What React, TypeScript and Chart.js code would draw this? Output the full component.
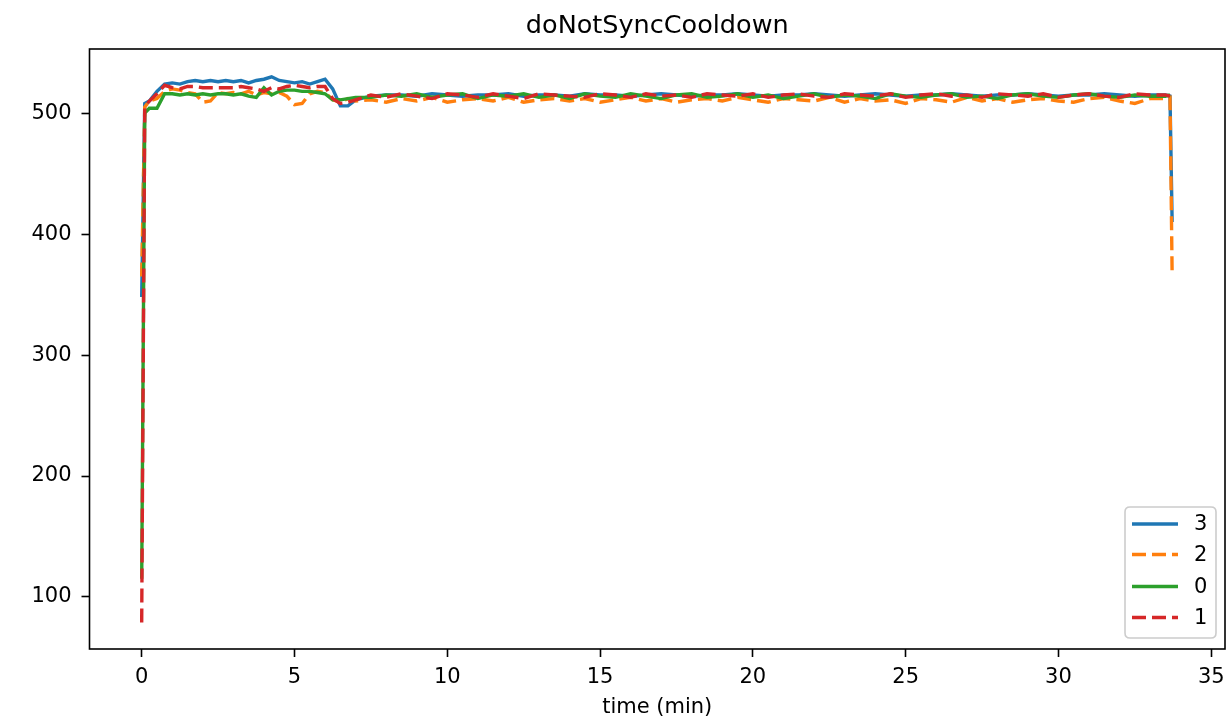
import React, { useEffect, useRef } from "react";
import { Chart, registerables } from "chart.js";

Chart.register(...registerables);

const FONT = "'DejaVu Sans', 'Liberation Sans', sans-serif";

// time axis (minutes)
const timeMin = [
  0, 0.1,
  0.25, 0.5, 0.75, 1, 1.25, 1.5, 1.75, 2, 2.25, 2.5,
  2.75, 3, 3.25, 3.5, 3.75, 4, 4.25, 4.5, 4.75, 5,
  5.25, 5.5, 5.75, 6, 6.25, 6.5, 6.75, 7,
  7.5, 8, 8.5, 9, 9.5, 10, 10.5, 11, 11.5, 12,
  12.5, 13, 13.5, 14, 14.5, 15, 15.5, 16, 16.5, 17,
  17.5, 18, 18.5, 19, 19.5, 20, 20.5, 21, 21.5, 22,
  22.5, 23, 23.5, 24, 24.5, 25, 25.5, 26, 26.5, 27,
  27.5, 28, 28.5, 29, 29.5, 30, 30.5, 31, 31.5, 32,
  32.5, 33, 33.5,
  33.65, 33.72,
];

// series "3" (blue, solid)
const series3 = [
  348, 508,
  510, 518, 524, 525, 524, 526, 527, 526, 527, 526,
  527, 526, 527, 525, 527, 528, 530, 527, 526, 525,
  526, 524, 526, 528, 520, 506, 506, 511,
  514, 515, 515, 514, 516, 515, 514, 515, 515, 516,
  514, 515, 515, 514, 516, 515, 515, 514, 515, 516,
  515, 514, 515, 515, 516, 515, 514, 515, 515, 516,
  515, 514, 515, 516, 515, 514, 515, 515, 516, 515,
  514, 515, 515, 516, 515, 514, 515, 515, 516, 515,
  514, 515, 515,
  514, 410,
];

// series "2" (orange, dashed)
const series2 = [
  365, 505,
  510, 512, 518, 520, 519, 517, 516, 509, 510, 517,
  516, 517, 516, 518, 515, 517, 516, 517, 514, 507,
  508, 516, 518, 517, 511, 509, 512, 510,
  511, 509, 512, 510, 513, 509, 511, 512, 510, 513,
  509, 511, 512, 510, 512, 509, 511, 513, 510, 512,
  509, 511, 512, 510, 513, 511, 509, 512, 511, 510,
  513, 509, 512, 510, 511, 508, 512, 511, 509, 513,
  510, 512, 509, 511, 512, 510, 509, 512, 513, 510,
  508, 512, 512,
  513, 367,
];

// series "0" (green, solid)
const series0 = [
  115, 500,
  504, 504, 516, 516, 515, 516, 515, 516, 515, 516,
  516, 515, 516, 514, 513, 521, 515, 518, 519, 519,
  518, 518, 517, 516, 511, 511, 512, 513,
  513, 515, 514, 516, 513, 515, 516, 512, 515, 514,
  516, 513, 515, 512, 516, 514, 513, 516, 514, 512,
  515, 516, 513, 514, 516, 513, 515, 512, 514, 516,
  513, 515, 514, 512, 516, 514, 513, 515, 516, 513,
  514, 512, 515, 516, 514, 513, 515, 516, 514, 513,
  515, 514, 514,
  515, null,
];

// series "1" (red, dashed)
const series1 = [
  79, 505,
  510, 516, 523, 521, 520, 522, 522, 521, 521, 521,
  521, 521, 522, 521, 520, 518, 521, 520, 522, 523,
  522, 521, 522, 522, 512, 508, 509, 511,
  515, 513, 516, 514, 512, 516, 515, 513, 516, 514,
  512, 516, 515, 514, 513, 516, 515, 513, 516, 514,
  515, 513, 516, 515, 514, 516, 513, 515, 516, 514,
  513, 516, 515, 514, 516, 513, 515, 516, 514, 515,
  513, 516, 515, 514, 516, 513, 515, 516, 514, 513,
  516, 515, 515,
  514, null,
];

const seriesLabels = ["3", "2", "0", "1"];
const seriesValues = [series3, series2, series0, series1];
const seriesColors = ["#1f77b4", "#ff7f0e", "#2ca02c", "#d62728"];
const seriesDashed = [false, true, false, true];

const xTickValues = [0, 5, 10, 15, 20, 25, 30, 35];
const yTickValues = [100, 200, 300, 400, 500];

const chartTitle = "doNotSyncCooldown";
const xAxisTitle = "time (min)";

const LINE_W = 3.4;
const DASH = [14, 6];
const TICK_FONT = 21;

const framePlugin = {
  id: "frame",
  afterDatasetsDraw(chart: any) {
    const { ctx, chartArea } = chart;
    ctx.save();
    ctx.strokeStyle = "#000";
    ctx.lineWidth = 1.6;
    ctx.setLineDash([]);
    ctx.strokeRect(
      chartArea.left,
      chartArea.top,
      chartArea.right - chartArea.left,
      chartArea.bottom - chartArea.top
    );
    ctx.restore();
  },
};

const titlePlugin = {
  id: "axesTitle",
  afterDraw(chart: any) {
    const { ctx, chartArea } = chart;
    ctx.save();
    ctx.font = `25.5px ${FONT}`;
    ctx.fillStyle = "#000";
    ctx.textAlign = "center";
    ctx.textBaseline = "middle";
    ctx.fillText(chartTitle, (chartArea.left + chartArea.right) / 2, 26);
    ctx.restore();
  },
};

const legendPlugin = {
  id: "mplLegend",
  afterDraw(chart: any) {
    const { ctx, chartArea } = chart;
    const w = 91;
    const h = 131;
    const right = chartArea.right - 9;
    const bottom = chartArea.bottom - 11;
    const left = right - w;
    const top = bottom - h;
    const r = 5;
    ctx.save();
    ctx.beginPath();
    ctx.moveTo(left + r, top);
    ctx.lineTo(right - r, top);
    ctx.quadraticCurveTo(right, top, right, top + r);
    ctx.lineTo(right, bottom - r);
    ctx.quadraticCurveTo(right, bottom, right - r, bottom);
    ctx.lineTo(left + r, bottom);
    ctx.quadraticCurveTo(left, bottom, left, bottom - r);
    ctx.lineTo(left, top + r);
    ctx.quadraticCurveTo(left, top, left + r, top);
    ctx.closePath();
    ctx.fillStyle = "rgba(255,255,255,0.8)";
    ctx.fill();
    ctx.strokeStyle = "#cccccc";
    ctx.lineWidth = 1.6;
    ctx.stroke();

    const rowY = [17, 47.5, 79.5, 110.5];
    ctx.font = `${TICK_FONT}px ${FONT}`;
    ctx.textBaseline = "middle";
    ctx.textAlign = "left";
    seriesLabels.forEach((lab, i) => {
      const y = top + rowY[i];
      ctx.beginPath();
      ctx.setLineDash(seriesDashed[i] ? DASH : []);
      ctx.strokeStyle = seriesColors[i];
      ctx.lineWidth = LINE_W;
      ctx.moveTo(left + 7, y);
      ctx.lineTo(left + 53, y);
      ctx.stroke();
      ctx.setLineDash([]);
      ctx.fillStyle = "#000";
      ctx.fillText(lab, left + 69, y + 1);
    });
    ctx.restore();
  },
};

export default function App() {
  const canvasRef = useRef<HTMLCanvasElement | null>(null);

  useEffect(() => {
    document.body.style.margin = "0";
    const canvas = canvasRef.current;
    if (!canvas) return;

    const datasets = seriesLabels.map((lab, i) => ({
      label: lab,
      data: timeMin.map((t, k) => ({ x: t, y: seriesValues[i][k] })),
      borderColor: seriesColors[i],
      backgroundColor: seriesColors[i],
      borderWidth: LINE_W,
      borderDash: seriesDashed[i] ? DASH : [],
      pointRadius: 0,
      tension: 0,
      fill: false,
      spanGaps: false,
      order: seriesLabels.length - i,
    }));

    const chart = new Chart(canvas, {
      type: "line",
      data: { datasets },
      plugins: [framePlugin, titlePlugin, legendPlugin],
      options: {
        animation: false,
        responsive: false,
        devicePixelRatio: 1,
        parsing: false as any,
        layout: { padding: { left: 0, right: 2, top: 49, bottom: 0 } },
        plugins: {
          legend: { display: false },
          tooltip: { enabled: false },
          title: { display: false },
        },
        scales: {
          x: {
            type: "linear",
            min: -1.708,
            max: 35.45,
            afterBuildTicks: (scale: any) => {
              scale.ticks = xTickValues.map((v) => ({ value: v }));
            },
            afterFit: (scale: any) => {
              scale.height = 72;
              scale.paddingLeft = 0;
              scale.paddingRight = 0;
            },
            grid: {
              display: true,
              drawOnChartArea: false,
              drawTicks: true,
              tickLength: 8,
              tickColor: "#000",
              tickWidth: 1.6,
            },
            border: { display: false },
            ticks: {
              color: "#000",
              font: { family: FONT, size: TICK_FONT },
              padding: 8,
              maxRotation: 0,
              autoSkip: false,
              callback: (v: any) => String(v),
            },
            title: {
              display: true,
              text: xAxisTitle,
              color: "#000",
              font: { family: FONT, size: TICK_FONT, lineHeight: 1.2 },
              padding: { top: 0, bottom: 1 },
            },
          },
          y: {
            type: "linear",
            min: 57,
            max: 553,
            afterBuildTicks: (scale: any) => {
              scale.ticks = yTickValues.map((v) => ({ value: v }));
            },
            afterFit: (scale: any) => {
              scale.width = 89.5;
              scale.paddingTop = 0;
              scale.paddingBottom = 0;
            },
            grid: {
              display: true,
              drawOnChartArea: false,
              drawTicks: true,
              tickLength: 8,
              tickColor: "#000",
              tickWidth: 1.6,
            },
            border: { display: false },
            ticks: {
              color: "#000",
              font: { family: FONT, size: TICK_FONT },
              padding: 10,
              autoSkip: false,
              callback: (v: any) => String(v),
            },
          },
        },
      },
    });

    return () => chart.destroy();
  }, []);

  return (
    <div style={{ width: 1227, height: 721, background: "#fff" }}>
      <canvas ref={canvasRef} width={1227} height={721} style={{ display: "block" }} />
    </div>
  );
}
